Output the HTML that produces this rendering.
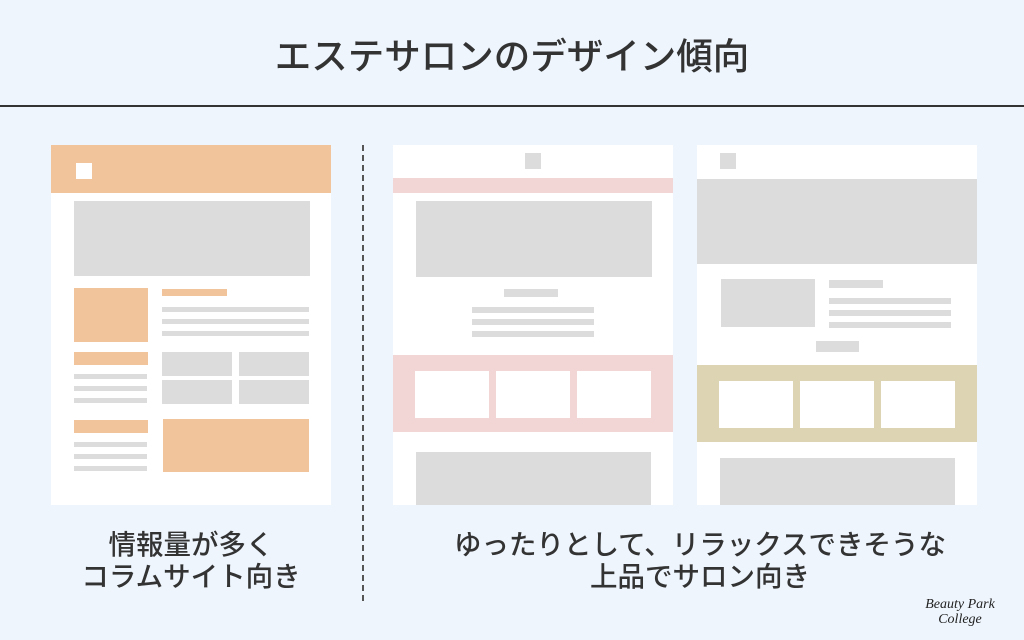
<!DOCTYPE html>
<html><head><meta charset="utf-8"><style>
body{margin:0;width:1024px;height:640px;background:#eef5fd;position:relative;overflow:hidden;font-family:"Liberation Sans","Noto Sans CJK JP",sans-serif;color:#333}
div{position:absolute}
.w{background:#fff}.g{background:#dcdcdc}.o{background:#f2c49c}.p{background:#f2d6d6}.t{background:#ddd4b3}
.txt{text-align:center;font-size:27.5px;line-height:32px;color:#333;font-weight:500;white-space:nowrap}
</style></head><body>
<div class="txt" style="left:0;top:35px;width:1024px;font-size:36.5px;line-height:44px">エステサロンのデザイン傾向</div>
<div style="left:0;top:105px;width:1024px;height:2px;background:#333"></div>
<div style="left:362px;top:145px;height:456px;border-left:2px dashed #555"></div>

<div class="w" style="left:51px;top:145px;width:280px;height:360px"></div>
<div class="o" style="left:51px;top:145px;width:280px;height:48px"></div>
<div class="w" style="left:76px;top:163px;width:16px;height:16px"></div>
<div class="g" style="left:74px;top:201px;width:236px;height:75px"></div>
<div class="o" style="left:74px;top:288px;width:74px;height:54px"></div>
<div class="o" style="left:162px;top:289px;width:65px;height:7px"></div>
<div class="g" style="left:162px;top:307px;width:147px;height:5px"></div>
<div class="g" style="left:162px;top:319px;width:147px;height:5px"></div>
<div class="g" style="left:162px;top:331px;width:147px;height:5px"></div>
<div class="o" style="left:74px;top:352px;width:74px;height:13px"></div>
<div class="g" style="left:74px;top:374px;width:73px;height:5px"></div>
<div class="g" style="left:74px;top:386px;width:73px;height:5px"></div>
<div class="g" style="left:74px;top:398px;width:73px;height:5px"></div>
<div class="g" style="left:162px;top:352px;width:70px;height:24px"></div>
<div class="g" style="left:239px;top:352px;width:70px;height:24px"></div>
<div class="g" style="left:162px;top:380px;width:70px;height:24px"></div>
<div class="g" style="left:239px;top:380px;width:70px;height:24px"></div>
<div class="o" style="left:74px;top:420px;width:74px;height:13px"></div>
<div class="g" style="left:74px;top:442px;width:73px;height:5px"></div>
<div class="g" style="left:74px;top:454px;width:73px;height:5px"></div>
<div class="g" style="left:74px;top:466px;width:73px;height:5px"></div>
<div class="o" style="left:163px;top:419px;width:146px;height:53px"></div>

<div class="w" style="left:393px;top:145px;width:280px;height:360px"></div>
<div class="g" style="left:525px;top:153px;width:16px;height:16px"></div>
<div class="p" style="left:393px;top:178px;width:280px;height:15px"></div>
<div class="g" style="left:416px;top:201px;width:236px;height:76px"></div>
<div class="g" style="left:504px;top:289px;width:54px;height:8px"></div>
<div class="g" style="left:472px;top:307px;width:122px;height:6px"></div>
<div class="g" style="left:472px;top:319px;width:122px;height:6px"></div>
<div class="g" style="left:472px;top:331px;width:122px;height:6px"></div>
<div class="p" style="left:393px;top:355px;width:280px;height:77px"></div>
<div class="w" style="left:415px;top:371px;width:74px;height:47px"></div>
<div class="w" style="left:496px;top:371px;width:74px;height:47px"></div>
<div class="w" style="left:577px;top:371px;width:74px;height:47px"></div>
<div class="g" style="left:416px;top:452px;width:235px;height:53px"></div>

<div class="w" style="left:697px;top:145px;width:280px;height:360px"></div>
<div class="g" style="left:720px;top:153px;width:16px;height:16px"></div>
<div class="g" style="left:697px;top:179px;width:280px;height:85px"></div>
<div class="g" style="left:721px;top:279px;width:94px;height:48px"></div>
<div class="g" style="left:829px;top:280px;width:54px;height:8px"></div>
<div class="g" style="left:829px;top:298px;width:122px;height:6px"></div>
<div class="g" style="left:829px;top:310px;width:122px;height:6px"></div>
<div class="g" style="left:829px;top:322px;width:122px;height:6px"></div>
<div class="g" style="left:816px;top:341px;width:43px;height:11px"></div>
<div class="t" style="left:697px;top:365px;width:280px;height:77px"></div>
<div class="w" style="left:719px;top:381px;width:74px;height:47px"></div>
<div class="w" style="left:800px;top:381px;width:74px;height:47px"></div>
<div class="w" style="left:881px;top:381px;width:74px;height:47px"></div>
<div class="g" style="left:720px;top:458px;width:235px;height:47px"></div>

<div class="txt" style="left:41px;top:529px;width:300px">情報量が多く<br>コラムサイト向き</div>
<div class="txt" style="left:400px;top:529px;width:600px">ゆったりとして、リラックスできそうな<br>上品でサロン向き</div>
<div style="left:905px;top:597px;width:110px;text-align:center;font-family:'Liberation Serif',serif;font-style:italic;font-size:14px;line-height:15px;color:#222">Beauty Park<br>College</div>
</body></html>
